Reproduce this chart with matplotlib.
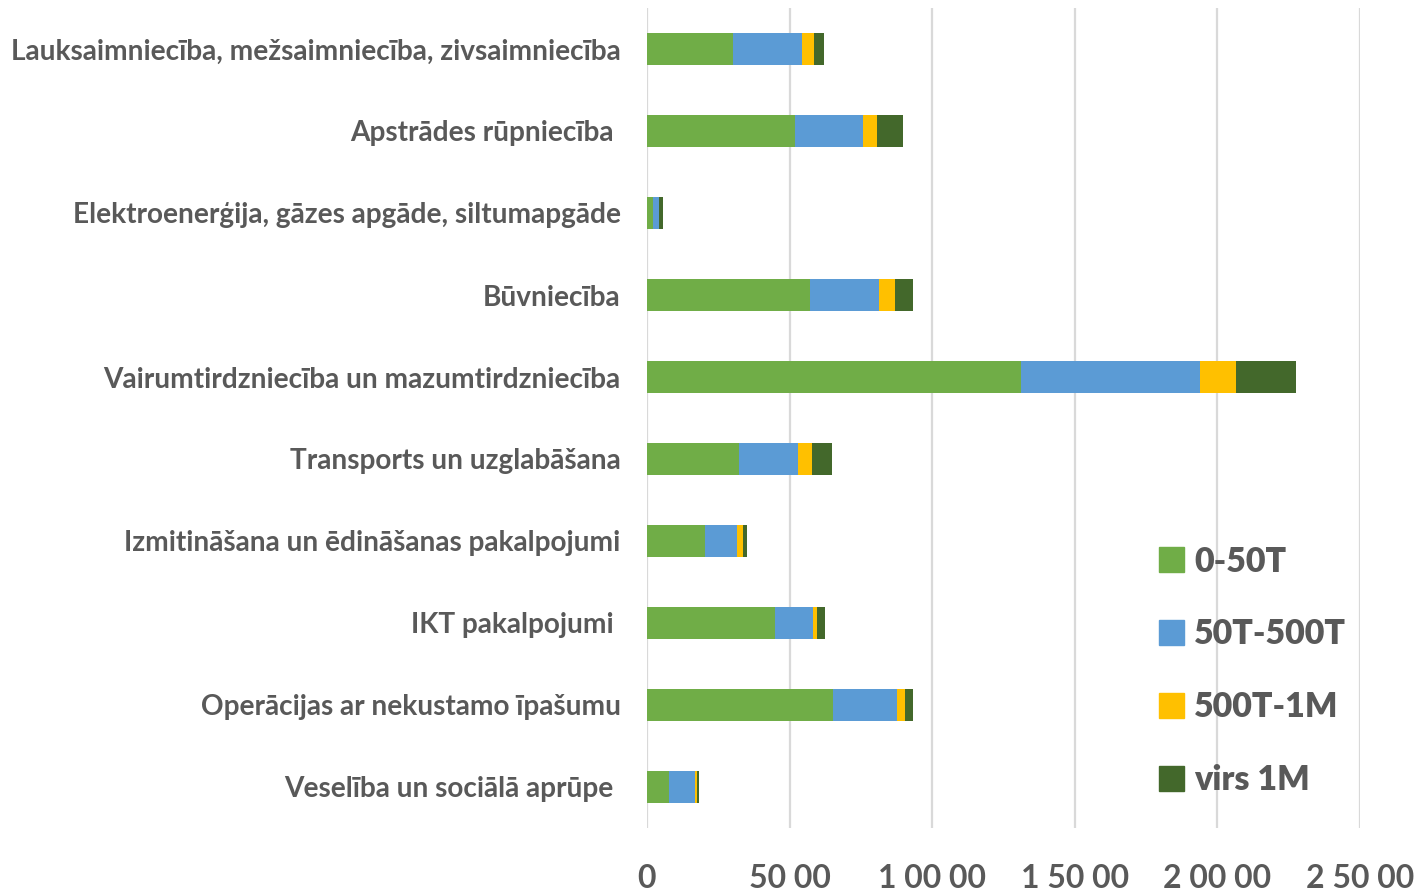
import matplotlib.pyplot as plt
from matplotlib.patches import Patch

plt.rcParams['font.family'] = ['Lato', 'DejaVu Sans']

# nozares (no augšas uz leju)
nozares = ['Lauksaimniecība, mežsaimniecība, zivsaimniecība',
           'Apstrādes rūpniecība ',
           'Elektroenerģija, gāzes apgāde, siltumapgāde',
           'Būvniecība',
           'Vairumtirdzniecība un mazumtirdzniecība',
           'Transports un uzglabāšana',
           'Izmitināšana un ēdināšanas pakalpojumi',
           'IKT pakalpojumi ',
           'Operācijas ar nekustamo īpašumu',
           'Veselība un sociālā aprūpe ']

grupas = ['0-50T', '50T-500T', '500T-1M', 'virs 1M']
krasas = ['#70AD47', '#5B9BD5', '#FFC000', '#43682B']

v_0_50 = [3030, 5200, 210, 5700, 13100, 3240, 2020, 4480, 6510, 770]
v_50_500 = [2390, 2380, 210, 2450, 6300, 2045, 1130, 1330, 2240, 910]
v_500_1m = [420, 500, 15, 560, 1260, 490, 210, 140, 280, 70]
v_virs_1m = [350, 910, 140, 630, 2100, 700, 140, 280, 280, 70]

x_ticks = [0, 5000, 10000, 15000, 20000, 25000]
x_labels = ['0', '50 00', '1 00 00', '1 50 00', '2 00 00', '2 50 00']

fig = plt.figure(figsize=(14.22, 8.94), dpi=100)
ax = fig.add_axes([647/1422, 1-828/894, (1360-647)/1422, 820/894])

y = list(range(len(nozares)))
left = [0]*len(nozares)
for vals, c, g in zip([v_0_50, v_50_500, v_500_1m, v_virs_1m], krasas, grupas):
    ax.barh(y, vals, left=left, height=0.39, color=c, label=g, zorder=3)
    left = [a+b for a, b in zip(left, vals)]

ax.set_ylim(len(nozares)-0.5, -0.5)
ax.set_xlim(0, 25000)
ax.set_yticks(y)
ax.set_yticklabels(nozares, fontsize=20.2, fontweight='bold', color='#595959')
ax.set_xticks(x_ticks)
ax.set_xticklabels(x_labels, fontsize=23, fontweight='bold', color='#595959')
ax.tick_params(length=0)
ax.tick_params(axis='y', pad=19)
ax.tick_params(axis='x', pad=26)
ax.grid(axis='x', color='#D9D9D9', linewidth=1.6, zorder=0)
for s in ax.spines.values():
    s.set_visible(False)

handles = [Patch(color=c) for c in krasas]
leg = fig.legend(handles, grupas, loc='upper left', bbox_to_anchor=(1128/1422, 1-515/894),
                 frameon=False, fontsize=24.5, handlelength=0.75, handleheight=0.75,
                 handletextpad=0.3, labelspacing=1.2)
for t in leg.get_texts():
    t.set_color('#595959')
    t.set_fontweight('heavy')

fig.savefig('out.png', dpi=100)
